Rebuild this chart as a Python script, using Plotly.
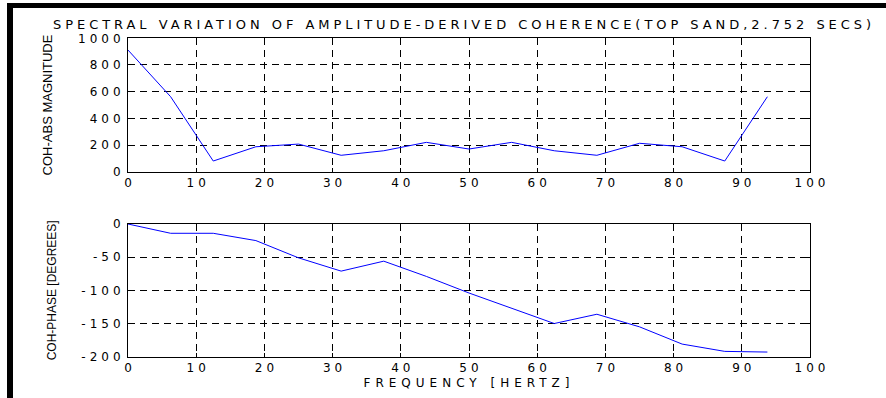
import plotly.graph_objects as go

# ---- data ----
freq = [0, 6.25, 12.5, 18.75, 25, 31.25, 37.5, 43.75, 50, 56.25, 62.5, 68.75, 75, 81.25, 87.5, 93.75]
coh_abs = [912, 562, 80, 187, 207, 123, 157, 220, 170, 220, 157, 123, 213, 187, 80, 562]
coh_phase = [0, -14, -14, -25, -51, -71, -56, -79, -104, -127, -150, -136, -155, -181, -192, -193]

title_text = "SPECTRAL VARIATION OF AMPLITUDE-DERIVED COHERENCE(TOP SAND,2.752 SECS)"
y1_title = "COH-ABS MAGNITUDE"
y2_title = "COH-PHASE [DEGREES]"
x_title = "FREQUENCY [HERTZ]"

x_ticks = list(range(0, 101, 10))
y1_ticks = list(range(0, 1001, 200))
y2_ticks = list(range(-200, 1, 50))

W, H = 886, 398
FONT = "DejaVu Sans, Arial, sans-serif"
FONT_Y = "Liberation Sans, Arial, sans-serif"


def spaced(s, ls):
    return f'<span style="letter-spacing:{ls}px">{s}</span>'


fig = go.Figure()
fig.add_trace(go.Scatter(x=freq, y=coh_abs, mode="lines",
                         line=dict(color="#0000ff", width=1),
                         xaxis="x", yaxis="y", showlegend=False))
fig.add_trace(go.Scatter(x=freq, y=coh_phase, mode="lines",
                         line=dict(color="#0000ff", width=1),
                         xaxis="x2", yaxis="y2", showlegend=False))

xdom = [128 / W, 810 / W]
y1dom = [(H - 171.7) / H, (H - 38.3) / H]
y2dom = [(H - 356.7) / H, (H - 224) / H]

tickfont = dict(family=FONT, size=12, color="black")
LS_TICK = 4

common_x = dict(range=[0, 100], tickvals=x_ticks,
                ticktext=[spaced(str(v), LS_TICK) for v in x_ticks],
                showgrid=True, gridcolor="black", griddash="7px,5px", gridwidth=1,
                showline=True, linecolor="black", linewidth=1, mirror="ticks",
                ticks="inside", ticklen=4, tickcolor="black",
                zeroline=False, tickfont=tickfont, ticklabelshift=2,
                automargin=False, domain=xdom, fixedrange=True)
common_y = dict(showgrid=True, gridcolor="black", griddash="7px,5px", gridwidth=1,
                showline=True, linecolor="black", linewidth=1, mirror="ticks",
                ticks="inside", ticklen=4, tickcolor="black",
                zeroline=False, tickfont=tickfont, automargin=False, fixedrange=True)

fig.update_layout(
    width=W, height=H, autosize=False,
    margin=dict(l=0, r=0, t=0, b=0, pad=0, autoexpand=False),
    paper_bgcolor="white", plot_bgcolor="white",
    font=dict(family=FONT, color="black"),
    title=dict(text=spaced(title_text, 3.95), x=464 / W, xanchor="center",
               y=(H - 24) / H, yanchor="middle", xref="paper", yref="paper",
               font=dict(family=FONT, size=13, color="black")),
    xaxis=dict(anchor="y", **common_x),
    yaxis=dict(anchor="x", domain=y1dom, range=[0, 1000], tickvals=y1_ticks,
               ticktext=[spaced(str(v), LS_TICK) for v in y1_ticks],
               title=dict(text=y1_title, font=dict(family=FONT_Y, size=13, color="black"), standoff=22),
               **common_y),
    xaxis2=dict(anchor="y2",
                title=dict(text=spaced(x_title, 5), font=dict(family=FONT, size=12, color="black"), standoff=4),
                **common_x),
    yaxis2=dict(anchor="x2", domain=y2dom, range=[-200, 0], tickvals=y2_ticks,
                ticktext=[spaced(str(v), LS_TICK) for v in y2_ticks],
                title=dict(text=y2_title, font=dict(family=FONT_Y, size=12, color="black"), standoff=22),
                **common_y),
    shapes=[
        # thick black frame bars (top and left)
        dict(type="rect", xref="paper", yref="paper", x0=7 / W, x1=1.0,
             y0=(H - 8) / H, y1=(H - 3) / H, fillcolor="black", line=dict(width=0)),
        dict(type="rect", xref="paper", yref="paper", x0=7 / W, x1=13 / W,
             y0=0, y1=(H - 3) / H, fillcolor="black", line=dict(width=0)),
    ],
)

fig.write_html("out.html")
